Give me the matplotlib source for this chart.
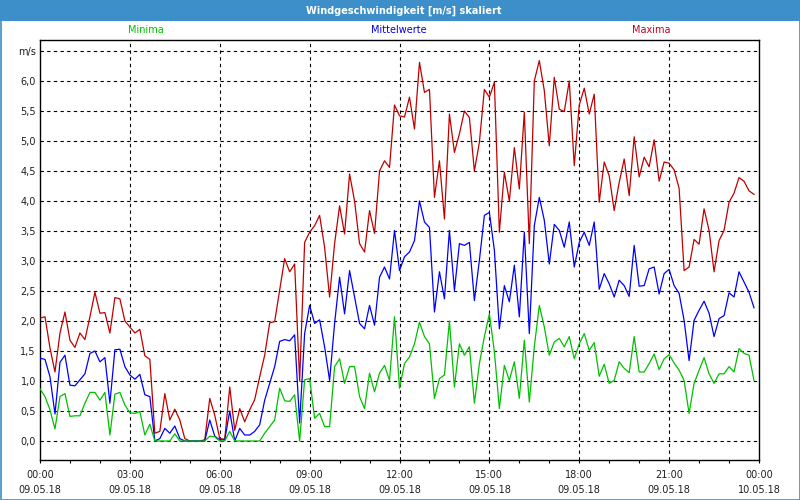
import numpy as np
import matplotlib.pyplot as plt
from matplotlib.patches import Rectangle

# 10-minute values, 09.05.18 00:00 .. 23:50
maxima = [2.05, 2.07, 1.55, 1.15, 1.8, 2.15, 1.68, 1.56, 1.8, 1.69,
          2.07, 2.48, 2.13, 2.14, 1.8, 2.39, 2.37, 2.0, 1.9, 1.8,
          1.86, 1.42, 1.36, 0.13, 0.16, 0.79, 0.35, 0.53, 0.35, 0.04,
          0.0, 0.0, 0.0, 0.02, 0.71, 0.43, 0.04, 0.03, 0.9, 0.18,
          0.54, 0.32, 0.52, 0.69, 1.07, 1.43, 1.97, 1.99, 2.52, 3.04,
          2.82, 2.95, 1.0, 3.31, 3.48, 3.59, 3.76, 3.23, 2.4, 3.29,
          3.92, 3.45, 4.45, 4.0, 3.29, 3.15, 3.84, 3.46, 4.5, 4.67,
          4.56, 5.6, 5.42, 5.4, 5.73, 5.2, 6.31, 5.81, 5.86, 4.06,
          4.67, 3.7, 5.45, 4.81, 5.12, 5.5, 5.39, 4.5, 4.98, 5.86,
          5.73, 5.98, 3.48, 4.48, 4.0, 4.89, 4.2, 5.48, 3.29, 6.0,
          6.34, 5.84, 4.92, 6.06, 5.53, 5.49, 6.0, 4.59, 5.6, 5.88,
          5.45, 5.78, 3.98, 4.65, 4.42, 3.84, 4.31, 4.7, 4.09, 5.07,
          4.4, 4.73, 4.57, 5.02, 4.33, 4.65, 4.63, 4.52, 4.21, 2.84,
          2.9, 3.36, 3.28, 3.87, 3.51, 2.82, 3.34, 3.51, 3.98, 4.13,
          4.39, 4.33, 4.17, 4.11]

mittelwerte = [1.38, 1.36, 1.07, 0.45, 1.31, 1.43, 0.93, 0.92, 1.02, 1.12,
               1.46, 1.5, 1.32, 1.39, 0.63, 1.52, 1.53, 1.24, 1.1, 1.03,
               1.11, 0.77, 0.74, 0.0, 0.04, 0.21, 0.13, 0.25, 0.04, 0.0,
               0.0, 0.0, 0.0, 0.0, 0.35, 0.08, 0.02, 0.02, 0.5, 0.0,
               0.21, 0.1, 0.1, 0.16, 0.27, 0.68, 0.96, 1.24, 1.66, 1.69,
               1.67, 1.77, 0.3, 1.79, 2.26, 1.96, 2.02, 1.57, 1.01, 1.96,
               2.73, 2.12, 2.84, 2.4, 1.96, 1.87, 2.26, 1.93, 2.73, 2.9,
               2.7, 3.51, 2.84, 3.07, 3.15, 3.34, 4.0, 3.65, 3.56, 2.15,
               2.82, 2.37, 3.51, 2.51, 3.29, 3.26, 3.31, 2.34, 3.01, 3.76,
               3.81, 3.18, 1.87, 2.59, 2.32, 2.93, 2.07, 3.48, 1.79, 3.59,
               4.06, 3.68, 2.95, 3.61, 3.51, 3.23, 3.65, 2.9, 3.31, 3.48,
               3.26, 3.65, 2.53, 2.79, 2.62, 2.4, 2.68, 2.59, 2.41, 3.26,
               2.58, 2.59, 2.87, 2.9, 2.45, 2.79, 2.86, 2.59, 2.46, 2.01,
               1.34, 2.01, 2.18, 2.33, 2.13, 1.74, 2.04, 2.09, 2.47, 2.4,
               2.82, 2.65, 2.48, 2.22]

minima = [0.87, 0.74, 0.52, 0.2, 0.74, 0.79, 0.41, 0.42, 0.42, 0.63,
          0.81, 0.81, 0.68, 0.81, 0.1, 0.78, 0.81, 0.6, 0.47, 0.46,
          0.49, 0.1, 0.28, 0.0, 0.0, 0.0, 0.0, 0.12, 0.0, 0.0,
          0.0, 0.0, 0.0, 0.0, 0.08, 0.07, 0.0, 0.0, 0.16, 0.0,
          0.0, 0.0, 0.0, 0.0, 0.0, 0.13, 0.24, 0.35, 0.88, 0.67,
          0.66, 0.77, 0.0, 1.02, 1.04, 0.38, 0.46, 0.24, 0.24, 1.24,
          1.37, 0.96, 1.24, 1.24, 0.74, 0.54, 1.13, 0.82, 1.13, 1.26,
          1.01, 2.07, 0.88, 1.29, 1.4, 1.62, 1.98, 1.74, 1.62, 0.71,
          1.04, 1.1, 2.0, 0.9, 1.62, 1.43, 1.57, 0.63, 1.29, 1.74,
          2.12, 1.49, 0.54, 1.26, 1.01, 1.32, 0.71, 1.68, 0.65, 1.57,
          2.26, 1.9, 1.43, 1.65, 1.71, 1.57, 1.74, 1.37, 1.62, 1.79,
          1.51, 1.64, 1.08, 1.28, 0.96, 1.01, 1.32, 1.21, 1.14, 1.74,
          1.15, 1.15, 1.29, 1.45, 1.19, 1.37, 1.44, 1.3, 1.18, 1.01,
          0.46, 0.96, 1.18, 1.39, 1.12, 0.96, 1.12, 1.12, 1.24, 1.15,
          1.54, 1.46, 1.43, 1.01]

hour_ticks = [0, 3, 6, 9, 12, 15, 18, 21, 24]
tick_labels = ['00:00\n09.05.18', '03:00\n09.05.18', '06:00\n09.05.18',
               '09:00\n09.05.18', '12:00\n09.05.18', '15:00\n09.05.18',
               '18:00\n09.05.18', '21:00\n09.05.18', '00:00\n10.05.18']
y_ticks = [0.0, 0.5, 1.0, 1.5, 2.0, 2.5, 3.0, 3.5, 4.0, 4.5, 5.0, 5.5, 6.0, 6.5]
y_labels = [f"{v:.1f}".replace('.', ',') for v in y_ticks[:-1]] + ['m/s']

hours = np.arange(len(maxima)) / 6.0

bar_blue = '#3c8fc9'
text_col = '#202020'

fig = plt.figure(figsize=(8, 5), dpi=100)
fig.patch.set_facecolor('white')

# title bar and window frame
fig.patches.append(Rectangle((0, 1 - 21 / 500), 1, 21 / 500, transform=fig.transFigure,
                             facecolor=bar_blue, edgecolor='none', zorder=0))
fig.patches.append(Rectangle((0.5 / 800, 0.5 / 500), 1 - 1 / 800, 1 - 1 / 500, transform=fig.transFigure,
                             facecolor='none', edgecolor=bar_blue, lw=1.2, zorder=1))
fig.text(0.505, 1 - 11 / 500, 'Windgeschwindigkeit [m/s] skaliert', color='white',
         fontsize=7, fontweight='bold', ha='center', va='center')

fig.text(146 / 800, 1 - 30 / 500, 'Minima', color='#00c000', fontsize=7, ha='center', va='center')
fig.text(399 / 800, 1 - 30 / 500, 'Mittelwerte', color='#0000e0', fontsize=7, ha='center', va='center')
fig.text(651 / 800, 1 - 30 / 500, 'Maxima', color='#c00020', fontsize=7, ha='center', va='center')

ax = fig.add_axes([40 / 800, 40 / 500, 719 / 800, 420 / 500])
ax.set_facecolor('white')

ax.plot(hours, maxima, color='#c00000', lw=0.9, zorder=3)
ax.plot(hours, mittelwerte, color='#0000ff', lw=0.9, zorder=4)
ax.plot(hours, minima, color='#00c000', lw=0.9, zorder=5)

ax.set_xlim(0, 24)
ax.set_ylim(-19 / 60, 401 / 60)

ax.set_yticks(y_ticks)
ax.set_yticklabels(y_labels)
ax.set_xticks(hour_ticks)
ax.set_xticklabels(tick_labels, linespacing=1.6)
ax.set_xticks(range(25), minor=True)

ax.tick_params(axis='y', length=0, pad=3, labelsize=7, labelcolor=text_col)
ax.tick_params(axis='x', which='both', length=2.5, width=0.8, direction='out',
               pad=5, labelsize=7, labelcolor=text_col)

for v in y_ticks:
    ax.axhline(v, color='black', lw=0.8, ls=(0, (3, 3)), zorder=1)
for h in hour_ticks[1:-1]:
    ax.axvline(h, color='black', lw=0.8, ls=(0, (3, 3)), zorder=1)

for s in ax.spines.values():
    s.set_color('black')
    s.set_linewidth(1.0)

fig.savefig('out.png', dpi=100)
